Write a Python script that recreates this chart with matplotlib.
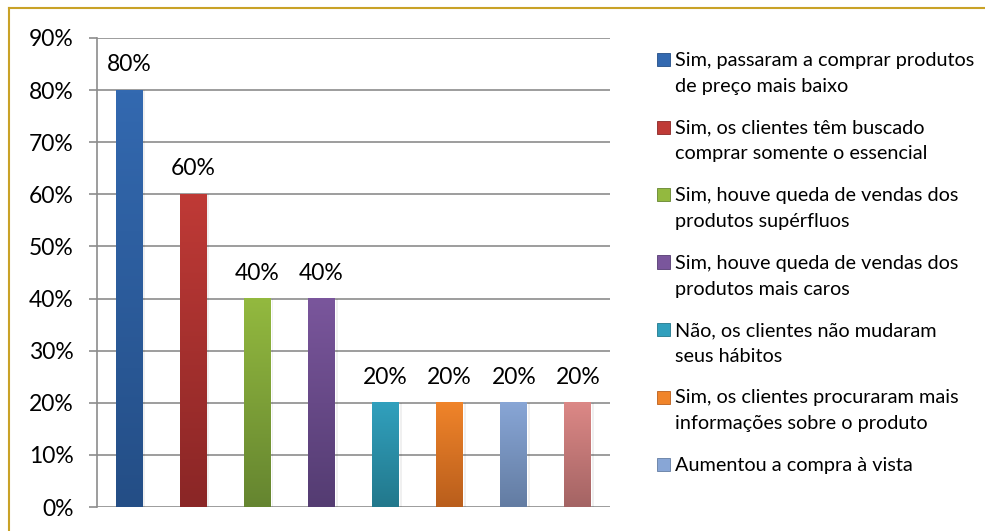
import numpy as np
import matplotlib
matplotlib.use("Agg")
import matplotlib.pyplot as plt
from matplotlib.colors import LinearSegmentedColormap
from matplotlib.ticker import PercentFormatter

plt.rcParams["font.family"] = ["Lato", "DejaVu Sans"]

# data
labels = [
    "Sim, passaram a comprar produtos\nde preço mais baixo",
    "Sim, os clientes têm buscado\ncomprar somente o essencial",
    "Sim, houve queda de vendas dos\nprodutos supérfluos",
    "Sim, houve queda de vendas dos\nprodutos mais caros",
    "Não, os clientes não mudaram\nseus hábitos",
    "Sim, os clientes procuraram mais\ninformações sobre o produto",
    "Aumentou a compra à vista",
    "",  # eighth bar has no visible legend entry
]
values = [0.80, 0.60, 0.40, 0.40, 0.20, 0.20, 0.20, 0.20]
top_colors = ["#3369b0", "#bf3a36", "#93b93f", "#7a569c", "#31a0bd", "#f0842a", "#88a6d6", "#dc8886"]
bottom_colors = ["#244e86", "#8a2626", "#658530", "#543c72", "#22788c", "#b95e1c", "#637ca2", "#a46464"]
yticks = [0.0, 0.1, 0.2, 0.3, 0.4, 0.5, 0.6, 0.7, 0.8, 0.9]

W, H = 985, 531
fig = plt.figure(figsize=(W / 100, H / 100), dpi=100)
ax = fig.add_axes([97 / W, 1 - 507 / H, (610 - 97) / W, (507 - 38) / H])

grid_col = "#8c8c8c"
x = np.arange(len(values))
bars = ax.bar(x, values, width=0.42, color=top_colors, zorder=2)

# vertical gradient on each bar
grad = np.linspace(0, 1, 128).reshape(-1, 1)
for bar, c_top, c_bot in zip(bars, top_colors, bottom_colors):
    cmap = LinearSegmentedColormap.from_list("g", [c_bot, c_top])
    x0 = bar.get_x()
    ax.imshow(grad, cmap=cmap, origin="lower", aspect="auto", interpolation="bilinear",
              extent=[x0, x0 + bar.get_width(), 0, bar.get_height()], zorder=3)
    # faint shadow on the right
    ax.bar(x0 + bar.get_width() + 0.012, bar.get_height(), width=0.03, align="edge",
           color="#000000", alpha=0.06, zorder=1.5)
    ax.annotate(f"{bar.get_height():.0%}", (x0 + bar.get_width() / 2, bar.get_height()),
                xytext=(0, 19), textcoords="offset pixels", ha="center", va="baseline",
                fontsize=16.5, color="#000000")

ax.set_xlim(-0.5, len(values) - 0.5)
ax.set_ylim(0, 0.9)
ax.set_yticks(yticks)
ax.yaxis.set_major_formatter(PercentFormatter(1.0, decimals=0))
ax.set_xticks([])
ax.tick_params(axis="y", length=6, width=1.2, color=grid_col, pad=11, labelsize=16.5)
ax.yaxis.grid(True, color=grid_col, linewidth=1.2, zorder=0)
ax.set_axisbelow(True)
for side in ["top", "right", "bottom"]:
    ax.spines[side].set_visible(False)
ax.spines["left"].set_color(grid_col)
ax.spines["left"].set_linewidth(1.2)

# legend drawn by hand so the marker lines up with the first text line
for i, (lab, c_top, c_bot) in enumerate(zip(labels, top_colors, bottom_colors)):
    if not lab:
        continue
    y_top = 53 + i * 67.5
    sq = plt.Rectangle((657 / W, 1 - (y_top + 13) / H), 13 / W, 13 / H,
                       transform=fig.transFigure, facecolor=c_top, edgecolor=c_bot, linewidth=0.6)
    fig.add_artist(sq)
    for k, line in enumerate(lab.split("\n")):
        fig.text(675 / W, 1 - (y_top + 13 + k * 26) / H, line, fontsize=14.3,
                 va="baseline", ha="left", color="#000000")

# golden frame (top and left edges visible)
frame_col = "#c9a227"
fig.add_artist(plt.Line2D([9 / W, 9 / W], [0, 1 - 8 / H], transform=fig.transFigure,
                          color=frame_col, linewidth=1.5))
fig.add_artist(plt.Line2D([9 / W, 1], [1 - 8 / H, 1 - 8 / H], transform=fig.transFigure,
                          color=frame_col, linewidth=1.5))

fig.savefig("out.png", dpi=100)
